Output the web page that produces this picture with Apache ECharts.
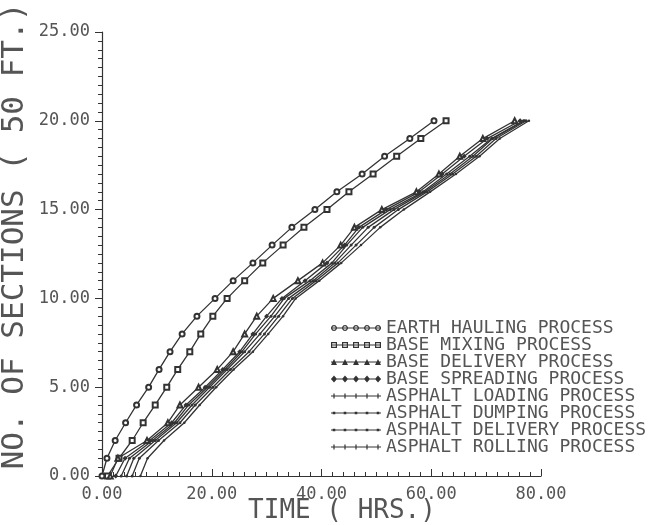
<!DOCTYPE html>
<html>
<head>
<meta charset="utf-8">
<script src="https://cdn.jsdelivr.net/npm/echarts@6/dist/echarts.min.js"></script>
<style>
  html, body { margin: 0; padding: 0; background: #fff; }
  #chart { width: 649px; height: 525px; }
</style>
</head>
<body>
<div id="chart"></div>
<script>
// sections completed (y) and the time (hrs) each process reached it (x)
const sections = [0, 1, 2, 3, 4, 5, 6, 7, 8, 9, 10, 11, 12, 13, 14, 15, 16, 17, 18, 19, 20];

const earthHauling    = [0, 0.9, 2.4, 4.3, 6.3, 8.5, 10.4, 12.4, 14.6, 17.3, 20.6, 23.9, 27.5, 31.0, 34.6, 38.8, 42.8, 47.4, 51.5, 56.1, 60.5];
const baseMixing      = [1.0, 3.1, 5.5, 7.5, 9.7, 11.8, 13.8, 16.0, 18.0, 20.2, 22.8, 26.0, 29.3, 33.0, 36.8, 41.0, 45.0, 49.4, 53.7, 58.1, 62.7];
const baseDelivery    = [1.5, 2.9, 8.2, 12.0, 14.2, 17.6, 21.0, 23.9, 26.0, 28.2, 31.2, 35.7, 40.2, 43.5, 46.0, 51.0, 57.3, 61.4, 65.2, 69.4, 75.2];
const baseSpreading   = [2.5, 4.2, 8.7, 12.7, 15.3, 18.8, 22.0, 25.1, 27.5, 30.0, 32.8, 37.0, 41.0, 44.2, 46.8, 51.8, 57.8, 62.0, 66.0, 70.2, 76.2];
const asphaltLoading  = [3.5, 5.0, 9.2, 13.2, 15.8, 19.2, 22.4, 25.5, 28.0, 30.8, 33.2, 37.9, 41.9, 44.6, 47.5, 52.5, 58.5, 62.8, 67.0, 71.0, 76.8];
const asphaltDumping  = [4.5, 5.8, 9.7, 13.6, 16.4, 19.6, 22.8, 26.0, 28.8, 31.5, 34.0, 38.5, 42.4, 45.4, 48.5, 53.2, 58.8, 63.4, 67.6, 71.2, 77.0];
const asphaltDelivery = [5.5, 6.8, 10.3, 14.2, 17.0, 20.2, 23.4, 26.8, 29.6, 32.2, 34.7, 39.0, 43.0, 46.3, 49.6, 54.0, 59.2, 63.9, 68.2, 71.8, 77.3];
const asphaltRolling  = [7.0, 8.3, 11.3, 15.0, 17.8, 20.8, 24.0, 27.5, 30.3, 33.0, 35.3, 39.6, 43.6, 47.2, 50.7, 55.0, 59.8, 64.5, 68.8, 72.5, 77.8];

const processNames = [
  'EARTH HAULING PROCESS',
  'BASE MIXING PROCESS',
  'BASE DELIVERY PROCESS',
  'BASE SPREADING PROCESS',
  'ASPHALT LOADING PROCESS',
  'ASPHALT DUMPING PROCESS',
  'ASPHALT DELIVERY PROCESS',
  'ASPHALT ROLLING PROCESS'
];
const processTimes = [earthHauling, baseMixing, baseDelivery, baseSpreading,
  asphaltLoading, asphaltDumping, asphaltDelivery, asphaltRolling];

const xTicks = [0, 20, 40, 60, 80];
const yTicks = [0, 5, 10, 15, 20, 25];

const ink = '#333';
const textInk = '#555';
const mono = '"DejaVu Sans Mono", monospace';

// legend icons: a line with five little markers, drawn in a 50 x 7 box
const centres = [3, 14, 25, 36, 47];
function poly(pts) {
  return 'M' + pts.map(p => p[0] + ',' + p[1]).join(' L') + ' Z ';
}
function ring(cx, r, ri, n) {
  const o = [], i = [];
  for (let k = 0; k < n; k++) {
    const a = Math.PI * 2 * k / n + Math.PI / n;
    o.push([cx + r * Math.cos(a), 3.5 + r * Math.sin(a)]);
    i.push([cx + ri * Math.cos(a), 3.5 + ri * Math.sin(a)]);
  }
  return poly(o) + poly(i.reverse());
}
const baseLine = 'M0,3 L50,3 L50,4 L0,4 Z ';
const marks = {
  circle: cx => ring(cx, 3, 1.8, 10),
  square: cx => poly([[cx - 3, 0.5], [cx + 3, 0.5], [cx + 3, 6.5], [cx - 3, 6.5]]) +
                poly([[cx - 1.8, 1.7], [cx - 1.8, 5.3], [cx + 1.8, 5.3], [cx + 1.8, 1.7]]),
  triangle: cx => poly([[cx, 0.5], [cx + 3, 6.5], [cx - 3, 6.5]]),
  diamond: cx => poly([[cx, 0], [cx + 3, 3.5], [cx, 7], [cx - 3, 3.5]]),
  plus: cx => poly([[cx - 0.6, 1], [cx + 0.6, 1], [cx + 0.6, 6], [cx - 0.6, 6]]),
  dot: cx => poly([[cx - 1.3, 2.2], [cx + 1.3, 2.2], [cx + 1.3, 4.8], [cx - 1.3, 4.8]])
};
function legendIcon(kind) {
  // keep box 0..50 x 0..7 so every icon scales the same
  return 'path://M0,0 L0.01,0 L0.01,0.01 Z M50,7 L49.99,7 L49.99,6.99 Z ' +
    baseLine + centres.map(cx => marks[kind](cx)).join('');
}

const seriesSymbols = ['emptyCircle', 'emptyRect', 'emptyTriangle', 'diamond', 'circle', 'circle', 'circle', 'circle'];
const seriesSizes = [5, 5, 5, 5, 3, 3, 3, 2.5];
const legendKinds = ['circle', 'square', 'triangle', 'diamond', 'plus', 'dot', 'dot', 'plus'];

const chart = echarts.init(document.getElementById('chart'));

chart.setOption({
  backgroundColor: '#fff',
  animation: false,
  grid: { left: 102, right: 108, top: 32, bottom: 49 },
  legend: {
    orient: 'vertical',
    left: 326,
    top: 314,
    itemWidth: 50,
    itemHeight: 7,
    itemGap: -1,
    itemStyle: { borderWidth: 0 },
    textStyle: { fontFamily: mono, fontSize: 18, color: textInk, lineHeight: 17 },
    data: processNames.map((name, i) => ({
      name: name,
      icon: legendIcon(legendKinds[i]),
      itemStyle: { color: ink, borderWidth: 0 }
    }))
  },
  xAxis: {
    type: 'value',
    min: 0,
    max: 80,
    interval: 20,
    splitLine: { show: false },
    axisLine: { lineStyle: { color: ink, width: 1.2 } },
    axisTick: { inside: true, length: 7, lineStyle: { color: ink } },
    minorTick: { show: true, splitNumber: 10, length: 4, lineStyle: { color: ink } },
    axisLabel: {
      margin: 10,
      fontFamily: mono,
      fontSize: 17,
      color: textInk,
      customValues: xTicks,
      formatter: v => v.toFixed(2)
    }
  },
  yAxis: {
    type: 'value',
    min: 0,
    max: 25,
    interval: 5,
    splitLine: { show: false },
    axisLine: { show: true, lineStyle: { color: ink, width: 1.2 } },
    axisTick: { show: true, length: 7, lineStyle: { color: ink } },
    minorTick: { show: true, splitNumber: 10, length: 4, lineStyle: { color: ink } },
    axisLabel: {
      margin: 12,
      fontFamily: mono,
      fontSize: 17,
      color: textInk,
      customValues: yTicks,
      formatter: v => v.toFixed(2)
    }
  },
  graphic: [
    {
      type: 'text',
      x: 342,
      y: 511,
      style: {
        text: 'TIME ( HRS.)',
        font: '26px ' + mono,
        fill: textInk,
        align: 'center',
        verticalAlign: 'middle'
      }
    },
    {
      type: 'text',
      x: 15,
      y: 236,
      rotation: Math.PI / 2,
      style: {
        text: 'NO. OF SECTIONS ( 50 FT.)',
        font: '31px ' + mono,
        fill: textInk,
        align: 'center',
        verticalAlign: 'middle'
      }
    }
  ],
  series: processNames.map((name, i) => ({
    name: name,
    type: 'line',
    data: processTimes[i].map((t, k) => [t, sections[k]]),
    symbol: seriesSymbols[i],
    symbolSize: seriesSizes[i],
    lineStyle: { color: ink, width: 1.3 },
    itemStyle: { color: ink, borderWidth: 1 },
    emphasis: { disabled: true }
  }))
});
</script>
</body>
</html>
